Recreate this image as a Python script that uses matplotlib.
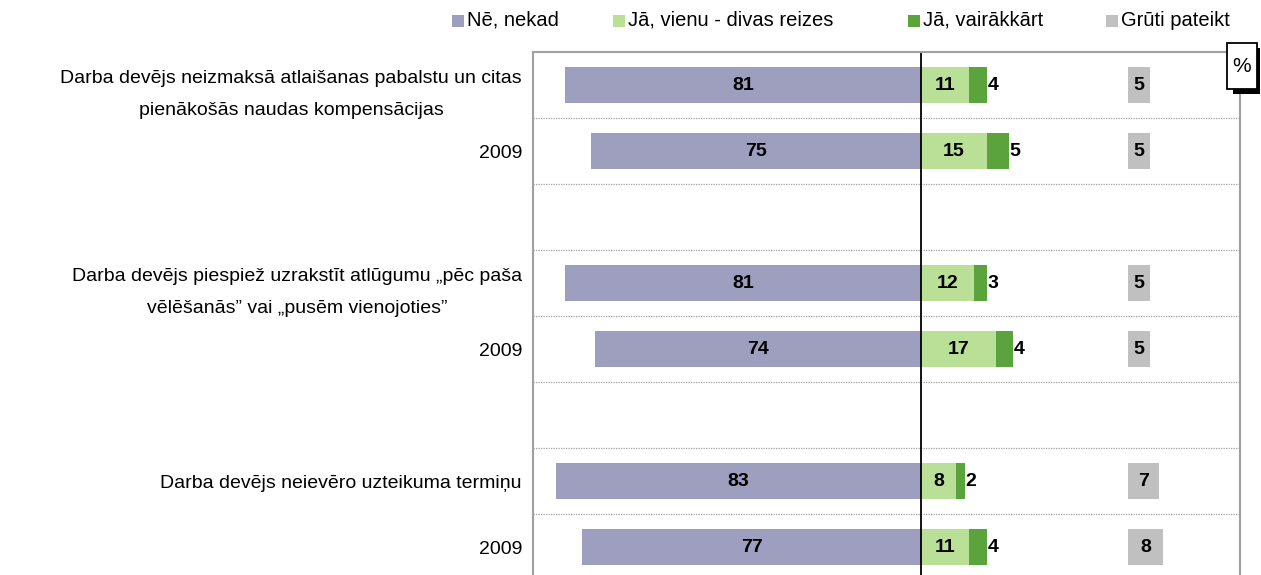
#!/usr/bin/env python3
"""Diverging bar chart: employer violations at dismissal, current vs 2009."""

import matplotlib

matplotlib.use("Agg")
import matplotlib.pyplot as plt  # noqa: E402
from matplotlib.patches import Rectangle  # noqa: E402

plt.rcParams["font.family"] = ["Liberation Sans", "DejaVu Sans"]

LABELS = [
    "Darba devējs neizmaksā atlaišanas pabalstu un citas\npienākošās naudas kompensācijas",
    "2009",
    "",
    "Darba devējs piespiež uzrakstīt atlūgumu „pēc paša\nvēlēšanās” vai „pusēm vienojoties”",
    "2009",
    "",
    "Darba devējs neievēro uzteikuma termiņu",
    "2009",
]
SERIES = ["Nē, nekad", "Jā, vienu - divas reizes", "Jā, vairākkārt", "Grūti pateikt"]
NEVER = [81, 75, None, 81, 74, None, 83, 77]
ONCE = [11, 15, None, 12, 17, None, 8, 11]
OFTEN = [4, 5, None, 3, 4, None, 2, 4]
HARD = [5, 5, None, 5, 5, None, 7, 8]

COLORS = ["#9e9ebf", "#b9e096", "#5ba33c", "#c0c0c0"]
HARD_OFFSET = 47
GRID = "#a0a0a0"
W, H = 1261, 575

fig = plt.figure(figsize=(W / 100, H / 100), dpi=100)
ax = fig.add_axes([533 / W, -5 / H, 707 / W, 528 / H])

n = len(LABELS)
bar_h = 0.55
for i in range(n):
    if NEVER[i] is None:
        continue
    ax.barh(i, -NEVER[i], height=bar_h, color=COLORS[0])
    ax.barh(i, ONCE[i], height=bar_h, color=COLORS[1])
    ax.barh(i, OFTEN[i], left=ONCE[i], height=bar_h, color=COLORS[2])
    ax.barh(i, HARD[i], left=HARD_OFFSET, height=bar_h, color=COLORS[3])

    bold = dict(fontsize=14, fontweight="bold", va="center")
    ax.text(-NEVER[i] / 2, i, str(NEVER[i]), ha="center", **bold)
    ax.text(ONCE[i] / 2, i, str(ONCE[i]), ha="center", **bold)
    ax.text(ONCE[i] + OFTEN[i] + 0.15, i, str(OFTEN[i]), ha="left", **bold)
    ax.text(HARD_OFFSET + HARD[i] / 2, i, str(HARD[i]), ha="center", **bold)

for i in range(n - 1):
    ax.axhline(i + 0.5, color=GRID, linestyle=(0, (1, 1)), linewidth=0.9)
ax.axvline(0, color="black", linewidth=1.3)

ax.set_xlim(-88.2, 72.5)
ax.set_ylim(n - 0.5, -0.5)
ax.set_xticks([])
ax.set_yticks(range(n))
ax.set_yticklabels(LABELS, fontsize=14, multialignment="center", linespacing=2.15)
ax.tick_params(axis="y", length=0, pad=8)
for side in ("left", "right"):
    ax.spines[side].set_color(GRID)
    ax.spines[side].set_linewidth(1.5)
ax.spines["top"].set_color(GRID)
ax.spines["top"].set_linestyle((0, (1, 1)))
ax.spines["top"].set_linewidth(1.5)
ax.spines["bottom"].set_visible(False)

# legend row across the top, laid out like the original
legend_x = [452, 613, 908, 1106]
for x, color, name in zip(legend_x, COLORS, SERIES):
    fig.patches.append(
        Rectangle((x / W, 1 - 27 / H), 12 / W, 12 / H,
                  transform=fig.transFigure, facecolor=color, edgecolor="none")
    )
    fig.text((x + 15) / W, 1 - 20 / H, name, ha="left", va="center", fontsize=14.5)

# "%" tag with drop shadow in the top right corner
fig.patches.append(
    Rectangle((1233 / W, 1 - 94 / H), 27 / W, 46 / H,
              transform=fig.transFigure, facecolor="black", edgecolor="none")
)
fig.patches.append(
    Rectangle((1227 / W, 1 - 89 / H), 30 / W, 46 / H,
              transform=fig.transFigure, facecolor="white", edgecolor="black",
              linewidth=1.3)
)
fig.text(1242 / W, 1 - 67 / H, "%", ha="center", va="center", fontsize=15)

fig.savefig("out.png", dpi=100)
